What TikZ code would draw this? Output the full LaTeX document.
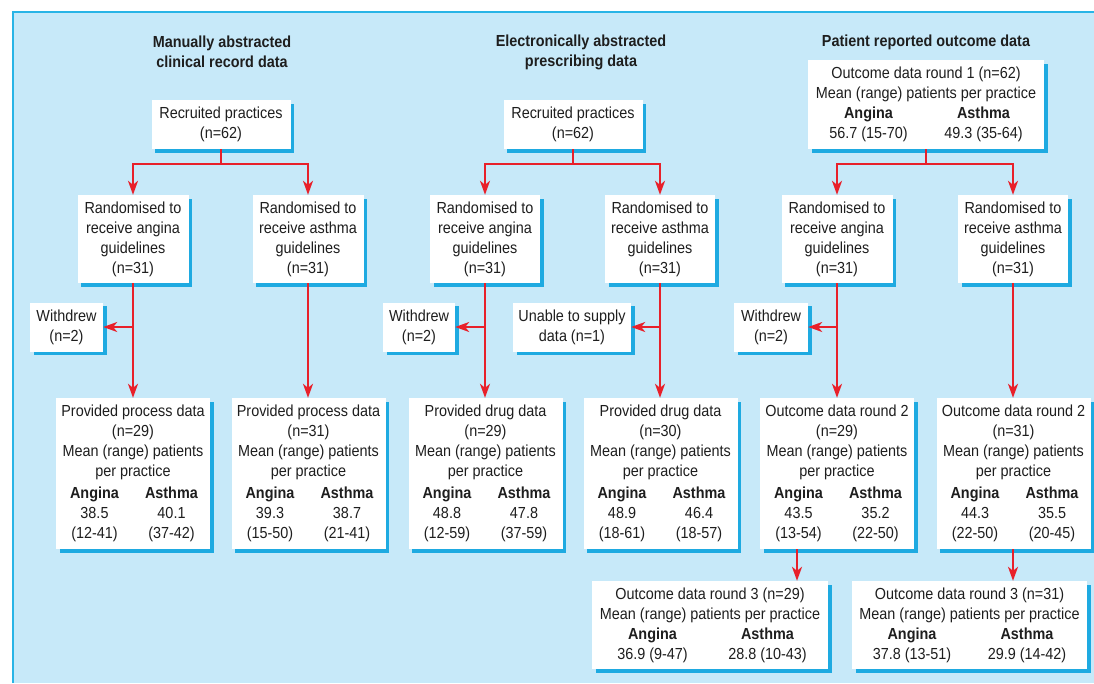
\documentclass[tikz,border=0pt]{standalone}
\usepackage{fontspec}
\setmainfont{Liberation Sans}[FakeStretch=0.9]
\usetikzlibrary{arrows.meta,shadows}
\definecolor{bgc}{RGB}{199,233,249}
\definecolor{framec}{RGB}{40,180,230}
\definecolor{shadowc}{RGB}{30,170,225}
\definecolor{redc}{RGB}{232,32,42}
\definecolor{txtc}{RGB}{30,30,30}
\newcommand{\twocol}[3]{\makebox[#1pt]{#2}\makebox[#1pt]{#3}}
\tikzset{
  box/.style={fill=white, draw=none, inner sep=0pt, align=center, text=txtc,
    font=\fontsize{16}{20}\selectfont,
    drop shadow={shadow xshift=3.5pt, shadow yshift=-3.5pt, fill=shadowc, opacity=1}},
  wh/.style 2 args={minimum width=#1pt, minimum height=#2pt},
  ln/.style={draw=redc, line width=2pt},
  arr/.style={draw=redc, line width=2pt, -{Stealth[length=14pt,width=10pt,inset=4pt,fill=redc]}},
  ttl/.style={font=\bfseries\fontsize{16}{20}\selectfont, align=center, text=txtc},
}
\begin{document}
\begin{tikzpicture}[x=1pt,y=-1pt]
\useasboundingbox (0,0) rectangle (1094,683);
\fill[bgc] (13,12) rectangle (1094,683);
\draw[framec, line width=2pt] (13,683) -- (13,12) -- (1094,12);

% titles
\node[ttl] (t1) at (222,52) {Manually abstracted\\clinical record data};
\node[ttl] (t2) at (581,52) {Electronically abstracted\\prescribing data};
\node[ttl] (t3) at (926,42) {Patient reported outcome data};

\coordinate (sy) at (0,164);
\coordinate (k1) at (797,0);
\coordinate (k2) at (1013,0);

% column 1
\node[box, wh={139}{49}] (rp1) at (221,124.5) {Recruited practices\\(n=62)};
\node[box, wh={111}{88}] (ra1) at (133,239) {Randomised to\\receive angina\\guidelines\\(n=31)};
\node[box, wh={111}{88}] (rb1) at (308,239) {Randomised to\\receive asthma\\guidelines\\(n=31)};
\node[box, wh={73}{49}] (w1) at (66.5,327) {Withdrew\\(n=2)};
\node[box, wh={152}{151}] (pa1) at (133,473.5) {Provided process data\\(n=29)\\Mean (range) patients\\per practice\\[2pt]\twocol{77}{\textbf{Angina}}{\textbf{Asthma}}\\\twocol{77}{38.5}{40.1}\\\twocol{77}{(12-41)}{(37-42)}};
\node[box, wh={153}{151}] (pb1) at (308.5,473.5) {Provided process data\\(n=31)\\Mean (range) patients\\per practice\\[2pt]\twocol{77}{\textbf{Angina}}{\textbf{Asthma}}\\\twocol{77}{39.3}{38.7}\\\twocol{77}{(15-50)}{(21-41)}};

% column 2
\node[box, wh={139}{49}] (rp2) at (573,124.5) {Recruited practices\\(n=62)};
\node[box, wh={110}{88}] (ra2) at (485,239) {Randomised to\\receive angina\\guidelines\\(n=31)};
\node[box, wh={110}{88}] (rb2) at (660,239) {Randomised to\\receive asthma\\guidelines\\(n=31)};
\node[box, wh={72}{49}] (w2) at (419,327) {Withdrew\\(n=2)};
\node[box, wh={118}{49}] (u2) at (572,327) {Unable to supply\\data (n=1)};
\node[box, wh={153}{151}] (pa2) at (485.5,473.5) {Provided drug data\\(n=29)\\Mean (range) patients\\per practice\\[2pt]\twocol{77}{\textbf{Angina}}{\textbf{Asthma}}\\\twocol{77}{48.8}{47.8}\\\twocol{77}{(12-59)}{(37-59)}};
\node[box, wh={153}{151}] (pb2) at (660.5,473.5) {Provided drug data\\(n=30)\\Mean (range) patients\\per practice\\[2pt]\twocol{77}{\textbf{Angina}}{\textbf{Asthma}}\\\twocol{77}{48.9}{46.4}\\\twocol{77}{(18-61)}{(18-57)}};

% column 3
\node[box, wh={236}{89}] (o1) at (926,104.5) {Outcome data round 1 (n=62)\\Mean (range) patients per practice\\\twocol{115}{\textbf{Angina}}{\textbf{Asthma}}\\\twocol{115}{56.7 (15-70)}{49.3 (35-64)}};
\node[box, wh={111}{88}] (ra3) at (837,239) {Randomised to\\receive angina\\guidelines\\(n=31)};
\node[box, wh={110}{88}] (rb3) at (1013,239) {Randomised to\\receive asthma\\guidelines\\(n=31)};
\node[box, wh={74}{49}] (w3) at (771,327) {Withdrew\\(n=2)};
\node[box, wh={152}{151}] (oa2) at (837,473.5) {Outcome data round 2\\(n=29)\\Mean (range) patients\\per practice\\[2pt]\twocol{77}{\textbf{Angina}}{\textbf{Asthma}}\\\twocol{77}{43.5}{35.2}\\\twocol{77}{(13-54)}{(22-50)}};
\node[box, wh={153}{151}] (ob2) at (1013.5,473.5) {Outcome data round 2\\(n=31)\\Mean (range) patients\\per practice\\[2pt]\twocol{77}{\textbf{Angina}}{\textbf{Asthma}}\\\twocol{77}{44.3}{35.5}\\\twocol{77}{(22-50)}{(20-45)}};
\node[box, wh={236}{88}] (oa3) at (710,625) {Outcome data round 3 (n=29)\\Mean (range) patients per practice\\\twocol{115}{\textbf{Angina}}{\textbf{Asthma}}\\\twocol{115}{36.9 (9-47)}{28.8 (10-43)}};
\node[box, wh={235}{88}] (ob3) at (969.5,625) {Outcome data round 3 (n=31)\\Mean (range) patients per practice\\\twocol{115}{\textbf{Angina}}{\textbf{Asthma}}\\\twocol{115}{37.8 (13-51)}{29.9 (14-42)}};

% connectors column 1
\draw[ln] (rp1.south) -- (rp1.south |- sy);
\draw[arr] (rp1.south |- sy) -| (ra1.north);
\draw[arr] (rp1.south |- sy) -| (rb1.north);
\draw[arr] (ra1.south) -- (ra1.south |- pa1.north);
\draw[arr] (rb1.south) -- (rb1.south |- pb1.north);
\draw[arr] (ra1.south |- w1.east) -- (w1.east);

% connectors column 2
\draw[ln] (rp2.south) -- (rp2.south |- sy);
\draw[arr] (rp2.south |- sy) -| (ra2.north);
\draw[arr] (rp2.south |- sy) -| (rb2.north);
\draw[arr] (ra2.south) -- (ra2.south |- pa2.north);
\draw[arr] (rb2.south) -- (rb2.south |- pb2.north);
\draw[arr] (ra2.south |- w2.east) -- (w2.east);
\draw[arr] (rb2.south |- u2.east) -- (u2.east);

% connectors column 3
\draw[ln] (o1.south) -- (o1.south |- sy);
\draw[arr] (o1.south |- sy) -| (ra3.north);
\draw[arr] (o1.south |- sy) -| (rb3.north);
\draw[arr] (ra3.south) -- (ra3.south |- oa2.north);
\draw[arr] (rb3.south) -- (rb3.south |- ob2.north);
\draw[arr] (ra3.south |- w3.east) -- (w3.east);
\draw[arr] (oa2.south -| k1) -- (oa3.north -| k1);
\draw[arr] (ob2.south -| k2) -- (ob3.north -| k2);
\end{tikzpicture}
\end{document}
